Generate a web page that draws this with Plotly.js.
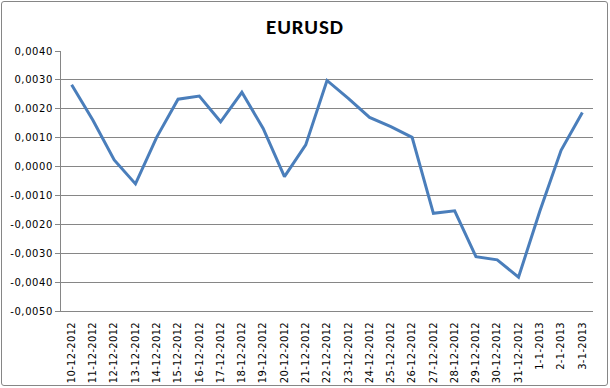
<!DOCTYPE html>
<html>
<head>
<meta charset="utf-8">
<script src="https://cdn.plot.ly/plotly-3.0.1.min.js"></script>
<style>
body{margin:0;padding:0;background:#fff;}
#wrap{position:relative;width:610px;height:388px;}
#chart{position:absolute;left:0;top:0;width:610px;height:388px;}
#frame{position:absolute;left:1px;top:1px;width:605px;height:383px;border:1px solid #868686;border-radius:3px;pointer-events:none;}
.ytick text{letter-spacing:0.6px;}
.xtick text{letter-spacing:0.3px;}
.gtitle{letter-spacing:1px;}
</style>
</head>
<body>
<div id="wrap"><div id="chart"></div><div id="frame"></div></div>
<script>
const dates = ["10-12-2012","11-12-2012","12-12-2012","13-12-2012","14-12-2012","15-12-2012","16-12-2012","17-12-2012","18-12-2012","19-12-2012","20-12-2012","21-12-2012","22-12-2012","23-12-2012","24-12-2012","25-12-2012","26-12-2012","27-12-2012","28-12-2012","29-12-2012","30-12-2012","31-12-2012","1-1-2013","2-1-2013","3-1-2013"];
const eurusd = [0.00283,0.00160,0.00023,-0.00060,0.00102,0.00233,0.00244,0.00155,0.00257,0.00132,-0.00035,0.00075,0.00298,0.00236,0.00170,0.00138,0.00101,-0.00162,-0.00153,-0.00312,-0.00323,-0.00383,-0.00155,0.00056,0.00187];
const yTicks = [-0.005,-0.004,-0.003,-0.002,-0.001,0,0.001,0.002,0.003,0.004];
const yTickText = ["-0,0050","-0,0040","-0,0030","-0,0020","-0,0010","0,0000","0,0010","0,0020","0,0030","0,0040"];

Plotly.newPlot('chart', [{
  type:'scatter', mode:'lines', x:dates, y:eurusd,
  line:{color:'#4A7EBB', width:3}
}], {
  width:610, height:388,
  margin:{l:61, r:17, t:51, b:77},
  paper_bgcolor:'#fff', plot_bgcolor:'#fff',
  showlegend:false,
  title:{text:'<b>EURUSD</b>', x:0.5, xanchor:'center', y:0.932, yanchor:'middle',
    font:{family:'Carlito, Calibri, "Liberation Sans", sans-serif', size:21, color:'#000'}},
  xaxis:{type:'category', tickangle:-90, showgrid:false, showline:true, linecolor:'#868686', linewidth:1,
    ticks:'', ticklabelstandoff:6, tickfont:{family:'Verdana, "DejaVu Sans", sans-serif', size:10, color:'#000'}, zeroline:false,
    range:[-0.5, dates.length-0.5]},
  yaxis:{range:[-0.005,0.004], tickvals:yTicks, ticktext:yTickText, showgrid:true, gridcolor:'#868686', gridwidth:1,
    showline:true, linecolor:'#868686', ticks:'outside', ticklen:5, tickcolor:'#868686', zeroline:false,
    tickfont:{family:'Verdana, "DejaVu Sans", sans-serif', size:10, color:'#000'}}
}, {staticPlot:true});
</script>
</body>
</html>
